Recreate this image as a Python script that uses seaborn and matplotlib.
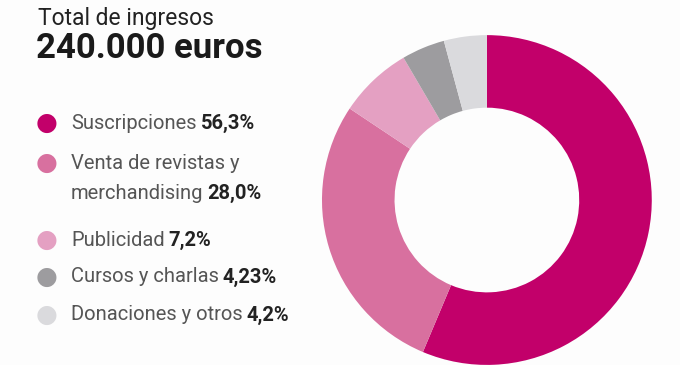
import matplotlib
matplotlib.use("Agg")
import matplotlib.pyplot as plt
import seaborn as sns

# datos del grafico
categorias = ["Suscripciones", "Venta de revistas y\nmerchandising", "Publicidad",
              "Cursos y charlas", "Donaciones y otros"]
porcentajes = [56.3, 28.0, 7.2, 4.23, 4.2]
etiquetas_pct = ["56,3%", "28,0%", "7,2%", "4,23%", "4,2%"]
colores = ["#c2006a", "#d8709f", "#e4a0c2", "#9d9c9f", "#dadadd"]

titulo = "Total de ingresos"
total = "240.000 euros"

sns.set_theme(style="white")
plt.rcParams["font.family"] = ["Roboto", "DejaVu Sans"]

fondo = "#fdfdfd"
fig = plt.figure(figsize=(6.8, 3.65), dpi=100, facecolor=fondo)

# donut
ax = fig.add_axes([0.4735, 0.0, 0.485, 0.904])
ax.set_facecolor(fondo)
ax.pie(porcentajes, colors=colores, startangle=90, counterclock=False,
       radius=1.0, wedgeprops=dict(width=0.44, edgecolor="none"))
ax.set_xlim(-1, 1)
ax.set_ylim(-1, 1)
ax.set_aspect("equal")
ax.axis("off")

W, H = 680, 365

def fx(px):
    return px / W

def fy(py):
    return 1 - py / H

fig.text(fx(38), fy(18), titulo, fontsize=16.5, color="#222222", va="center", ha="left")
fig.text(fx(36), fy(48), total, fontsize=25, fontweight="bold", color="#1a1a1a",
         va="center", ha="left")

# leyenda
renderer = fig.canvas.get_renderer()
pos_y = [123, 178, 240, 277, 315]
for cat, pct, col, y in zip(categorias, etiquetas_pct, colores, pos_y):
    fig.text(fx(47), fy(y if "\n" not in cat else y - 15), "\u25cf", fontsize=18, color=col,
             ha="center", va="center", family="DejaVu Sans")
    lineas = cat.split("\n")
    if len(lineas) == 2:
        ys = [y - 15, y + 15]
    else:
        ys = [y]
    for i, (lin, yy) in enumerate(zip(lineas, ys)):
        t = fig.text(fx(71), fy(yy), lin, fontsize=14.5, color="#555555",
                     ha="left", va="center")
        if i == len(lineas) - 1:
            bb = t.get_window_extent(renderer=renderer)
            fig.text(bb.x1 / W + fx(4), fy(yy), pct, fontsize=14.5, fontweight="bold",
                     color="#222222", ha="left", va="center")

fig.savefig("out.png", dpi=100, facecolor=fondo)
